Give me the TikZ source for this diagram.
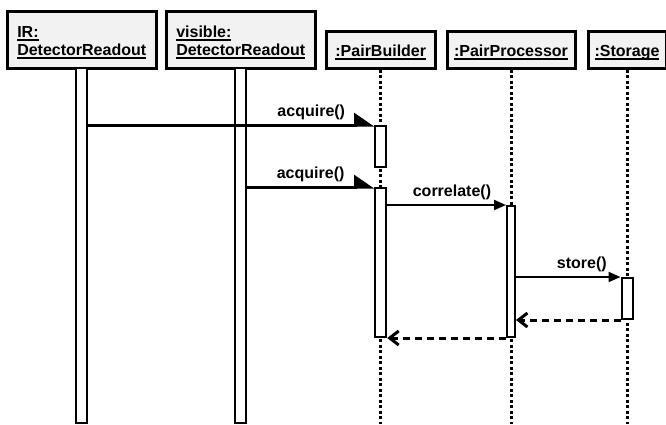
\documentclass[tikz,border=0pt]{standalone}
\usepackage{fontspec}
\setmainfont{Liberation Sans}
\usetikzlibrary{arrows.meta}
\definecolor{boxgray}{RGB}{242,242,242}
\newcommand{\objname}[1]{\setbox0=\hbox{#1}\rlap{\rule[-3.5pt]{\wd0}{2pt}}\box0}

\begin{document}
\begin{tikzpicture}
	[x=1pt,y=-1pt,
	object/.style={draw, line width=3pt, fill=boxgray, inner sep=0pt, text depth=4pt,
		font=\bfseries\fontsize{16}{18}\selectfont},
	lifeline/.style={line width=3pt, dash pattern=on 3pt off 2.5pt},
	activation/.style={draw, line width=2pt, fill=white, inner sep=0pt, minimum width=11pt},
	call/.style={line width=2pt, -{Triangle[length=12pt,width=10pt]}},
	signal/.style={line width=3pt, -{Triangle[harpoon,length=18pt,width=24pt]}},
	reply/.style={line width=3pt, dash pattern=on 7pt off 5pt, -{Straight Barb[length=9pt,width=14pt]}},
	msg/.style={anchor=base, yshift=8.5pt, inner sep=0pt, font=\bfseries\fontsize{16}{18}\selectfont}]
	\useasboundingbox (0,0) rectangle (666,424);
	\coordinate (bottom) at (0,424);

	\node[object, minimum width=149pt, minimum height=57pt, text height=36pt, align=left] (ir) at (81.75,39.75)
		{\objname{IR:}\\\objname{DetectorReadout}};
	\node[object, minimum width=149pt, minimum height=57pt, text height=36pt, align=left] (visible) at (240.75,39.75)
		{\objname{visible:}\\\objname{DetectorReadout}};
	\node[object, minimum width=108.5pt, minimum height=36.5pt, text height=16.5pt] (builder) at (380.75,49.75)
		{\objname{:PairBuilder}};
	\node[object, minimum width=128pt, minimum height=36.5pt, text height=16.5pt] (processor) at (511,49.75)
		{\objname{:PairProcessor}};
	\node[object, minimum width=78pt, minimum height=36.5pt, text height=16.5pt] (storage) at (627,49.75)
		{\objname{:Storage}};

	\draw[lifeline] (builder.south) -- (builder.south |- bottom);
	\draw[lifeline] (processor.south) -- (processor.south |- bottom);
	\draw[lifeline] (storage.south) -- (storage.south |- bottom);

	\node[activation, minimum height=354.5pt] (irbar) at (81.5,245.25) {};
	\node[activation, minimum height=354.5pt] (visbar) at (240.5,245.25) {};
	\node[activation, minimum height=41pt] (b1) at (380.75,146.5) {};
	\node[activation, minimum height=149pt] (b2) at (380.75,262.5) {};
	\node[activation, minimum width=8pt, minimum height=131pt] (p1) at (511,271.5) {};
	\node[activation, minimum height=41pt] (s1) at (627,298.5) {};

	\draw[signal] (irbar.east |- b1.north) -- (b1.north west) node[msg, pos=.78] {acquire()};
	\draw[signal] (visbar.east |- b2.north) -- (b2.north west) node[msg, pos=.5] {acquire()};
	\draw[call] (b2.east |- p1.north) -- (p1.north west) node[msg, pos=.545] {correlate()};
	\draw[call] (p1.east |- s1.north) -- (s1.north west) node[msg, pos=.63] {store()};
	\draw[reply] (s1.south west) -- (p1.east |- s1.south);
	\draw[reply] (p1.south west) -- (b2.south east);
\end{tikzpicture}
\end{document}
